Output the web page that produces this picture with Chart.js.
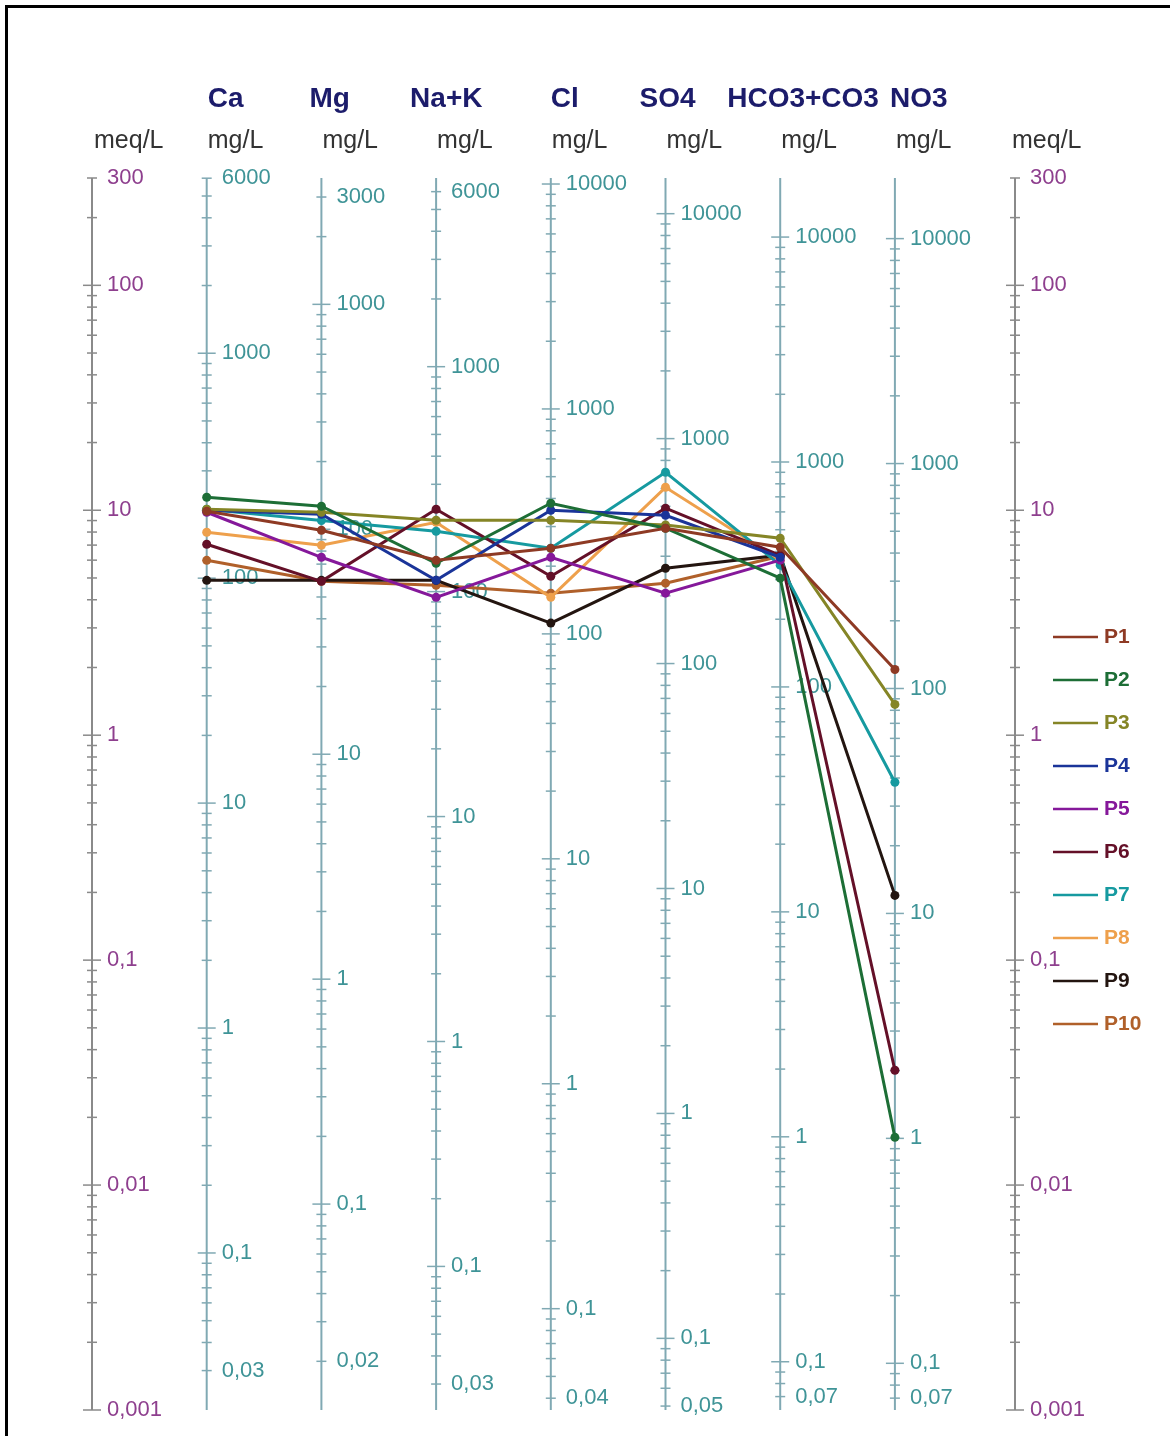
<!DOCTYPE html>
<html>
<head>
<meta charset="utf-8">
<script src="https://cdn.jsdelivr.net/npm/chart.js@4.4.0/dist/chart.umd.min.js"></script>
<style>
  html, body { margin: 0; padding: 0; background: #fff; }
</style>
</head>
<body>
<canvas id="schoeller" width="1170" height="1436"></canvas>
<script>
// ions on the diagram and the weight that turns meq/L into mg/L
const ions = ['Ca', 'Mg', 'Na+K', 'Cl', 'SO4', 'HCO3+CO3', 'NO3'];
const eqWeights = [20.04, 12.15, 23.0, 35.45, 48.03, 61.02, 62.0];

// tick labels (mg/L on each ion axis, meq/L on the outer axes)
const meqLabels = [300, 100, 10, 1, 0.1, 0.01, 0.001];
const caLabels = [6000, 1000, 100, 10, 1, 0.1, 0.03];
const mgLabels = [3000, 1000, 100, 10, 1, 0.1, 0.02];
const naLabels = [6000, 1000, 100, 10, 1, 0.1, 0.03];
const clLabels = [10000, 1000, 100, 10, 1, 0.1, 0.04];
const so4Labels = [10000, 1000, 100, 10, 1, 0.1, 0.05];
const hco3Labels = [10000, 1000, 100, 10, 1, 0.1, 0.07];
const no3Labels = [10000, 1000, 100, 10, 1, 0.1, 0.07];
const ionLabels = [caLabels, mgLabels, naLabels, clLabels, so4Labels, hco3Labels, no3Labels];

// samples, meq/L in the order of ions[]
const samples = ['P1', 'P2', 'P3', 'P4', 'P5', 'P6', 'P7', 'P8', 'P9', 'P10'];
const p1 = [9.9, 8.15, 5.99, 6.78, 8.32, 6.85, 1.96];
const p2 = [11.42, 10.42, 5.81, 10.74, 8.32, 4.99, 0.0163];
const p3 = [10.1, 9.8, 9.03, 9.03, 8.6, 7.51, 1.37];
const p4 = [10.0, 9.6, 4.88, 10.0, 9.5, 6.18, null];
const p5 = [9.8, 6.18, 4.10, 6.18, 4.28, 6.0, null];
const p6 = [7.06, 4.83, 10.1, 5.09, 10.21, 6.31, 0.0324];
const p7 = [10.1, 9.0, 8.07, 6.78, 14.75, 5.7, 0.618];
const p8 = [7.98, 6.99, 8.84, 4.10, 12.65, 6.0, null];
const p9 = [4.88, 4.88, 4.88, 3.15, 5.52, 6.31, 0.194];
const p10 = [5.99, 4.83, 4.64, 4.28, 4.74, 6.25, null];
const seriesValues = [p1, p2, p3, p4, p5, p6, p7, p8, p9, p10];

const colors = ['#8e3a24', '#1d6e36', '#858526', '#1a3499', '#85189a',
                '#641028', '#169aa0', '#eea04c', '#231510', '#b0602a'];

const rightAxisPos = 8.047;

function fmt(v) {
  return String(v).replace('.', ',');
}

function drawAxis(ctx, yScale, px, w, labels, lineColor, textColor) {
  const top = yScale.getPixelForValue(yScale.max);
  const bottom = yScale.getPixelForValue(yScale.min);
  ctx.strokeStyle = lineColor;
  ctx.lineWidth = 2;
  ctx.beginPath();
  ctx.moveTo(px, top);
  ctx.lineTo(px, bottom);
  ctx.stroke();

  const lo = yScale.min * w, hi = yScale.max * w;
  ctx.lineWidth = 1.5;
  for (let n = Math.floor(Math.log10(lo)); n <= Math.ceil(Math.log10(hi)); n++) {
    for (let k = 1; k <= 9; k++) {
      const v = k * Math.pow(10, n);
      if (v < lo * 0.999 || v > hi * 1.001) continue;
      const py = yScale.getPixelForValue(v / w);
      const len = k === 1 ? 9 : 5;
      ctx.beginPath();
      ctx.moveTo(px - len, py);
      ctx.lineTo(px + len, py);
      ctx.stroke();
    }
  }

  ctx.fillStyle = textColor;
  ctx.font = '22px "Liberation Sans", Arial, sans-serif';
  ctx.textAlign = 'left';
  ctx.textBaseline = 'middle';
  labels.forEach(v => {
    ctx.fillText(fmt(v), px + 15, yScale.getPixelForValue(v / w));
  });
}

const schoellerAxes = {
  id: 'schoellerAxes',
  beforeDatasetsDraw(chart) {
    const { ctx } = chart;
    const x = chart.scales.x, y = chart.scales.y;
    ctx.save();

    // frame
    ctx.fillStyle = '#000';
    ctx.fillRect(5, 5, 1165, 3);
    ctx.fillRect(5, 5, 3, 1431);

    const leftX = x.getPixelForValue(0);
    const rightX = x.getPixelForValue(rightAxisPos);
    drawAxis(ctx, y, leftX, 1, meqLabels, '#8a8a8a', '#8e3f8e');
    drawAxis(ctx, y, rightX, 1, meqLabels, '#8a8a8a', '#8e3f8e');
    ions.forEach((ion, i) => {
      drawAxis(ctx, y, x.getPixelForValue(i + 1), eqWeights[i], ionLabels[i], '#80a9b3', '#3f9497');
    });

    // ion names
    const headerShift = [1, -12, -26, 0, -26, -53, -5];
    ctx.fillStyle = '#1c1c6b';
    ctx.font = 'bold 28px "Liberation Sans", Arial, sans-serif';
    ctx.textAlign = 'left';
    ctx.textBaseline = 'alphabetic';
    ions.forEach((ion, i) => {
      ctx.fillText(ion, x.getPixelForValue(i + 1) + headerShift[i], 107);
    });

    // units
    ctx.fillStyle = '#333';
    ctx.font = '25px "Liberation Sans", Arial, sans-serif';
    ctx.fillText('meq/L', leftX + 2, 148);
    ions.forEach((ion, i) => {
      ctx.fillText('mg/L', x.getPixelForValue(i + 1) + 1, 148);
    });
    ctx.fillText('meq/L', rightX - 3, 148);

    // legend
    ctx.font = 'bold 21px "Liberation Sans", Arial, sans-serif';
    ctx.textBaseline = 'middle';
    samples.forEach((name, i) => {
      const ly = 637 + i * 43;
      ctx.strokeStyle = colors[i];
      ctx.lineWidth = 2.5;
      ctx.beginPath();
      ctx.moveTo(1053, ly);
      ctx.lineTo(1098, ly);
      ctx.stroke();
      ctx.fillStyle = colors[i];
      ctx.fillText(name, 1104, ly);
    });

    ctx.restore();
  }
};

new Chart(document.getElementById('schoeller').getContext('2d'), {
  type: 'line',
  data: {
    datasets: samples.map((name, i) => ({
      label: name,
      data: seriesValues[i].map((v, j) => ({ x: j + 1, y: v })),
      borderColor: colors[i],
      backgroundColor: colors[i],
      borderWidth: 3,
      pointRadius: 4.5,
      pointBorderWidth: 0,
      tension: 0
    }))
  },
  options: {
    responsive: false,
    animation: false,
    layout: { padding: { left: 92, right: 155, top: 178, bottom: 26 } },
    scales: {
      x: { type: 'linear', min: 0, max: rightAxisPos, display: false },
      y: { type: 'logarithmic', min: 0.001, max: 300, display: false }
    },
    plugins: {
      legend: { display: false },
      tooltip: { enabled: false }
    }
  },
  plugins: [schoellerAxes]
});
</script>
</body>
</html>
